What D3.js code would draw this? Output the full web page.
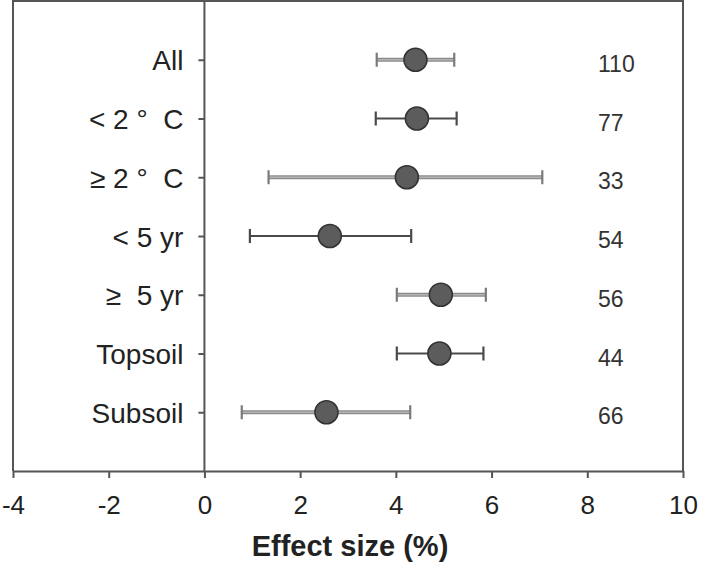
<!DOCTYPE html>
<html>
<head>
<meta charset="utf-8">
<script src="https://cdn.jsdelivr.net/npm/d3@7"></script>
<style>
  html, body { margin: 0; padding: 0; background: #fff; }
  svg { display: block; font-family: "Liberation Sans", Arial, sans-serif; }
</style>
</head>
<body>
<svg id="chart" width="701" height="569"></svg>
<script>
// ---- data ----
const categories = ["All", "< 2 °\u00A0\u00A0C", "≥ 2 °\u00A0\u00A0C", "< 5 yr", "≥\u00A0\u00A05 yr", "Topsoil", "Subsoil"];
const effect = [4.41, 4.44, 4.23, 2.62, 4.94, 4.91, 2.55];
const ciLow  = [3.60, 3.58, 1.34, 0.95, 4.02, 4.02, 0.78];
const ciHigh = [5.22, 5.27, 7.06, 4.32, 5.88, 5.83, 4.30];
const nObs   = [110, 77, 33, 54, 56, 44, 66];
const xTicks = [-4, -2, 0, 2, 4, 6, 8, 10];
const xTitle = "Effect size (%)";

// ---- layout ----
const svg = d3.select("#chart");
const pL = 13, pR = 683, pT = 1, pB = 471;
const axisColor = "#555";

const x = d3.scaleLinear().domain([-4, 10]).range([pL, pR]);
const y = d3.scalePoint().domain(d3.range(categories.length)).range([pT, pB]).padding(1);

// frame (top, left, right)
svg.append("path")
  .attr("d", `M${pL},${pB}V${pT}H${pR}V${pB}`)
  .attr("fill", "none").attr("stroke", axisColor).attr("stroke-width", 2);

// x axis
const xAxis = svg.append("g")
  .attr("transform", `translate(0,${pB})`)
  .call(d3.axisBottom(x).tickValues(xTicks).tickFormat(d => String(d)).tickSize(7).tickSizeOuter(0));
xAxis.select(".domain").attr("stroke", axisColor).attr("stroke-width", 2);
xAxis.selectAll(".tick line").attr("stroke", axisColor).attr("stroke-width", 2);
xAxis.selectAll(".tick text")
  .attr("y", 25).attr("dy", "0.71em")
  .attr("font-size", 26).attr("fill", "#222")
  .attr("font-family", "'Liberation Sans', Arial, sans-serif");

// y axis at x = 0
const yAxis = svg.append("g")
  .attr("transform", `translate(${x(0)},0)`)
  .call(d3.axisLeft(y).tickFormat(i => categories[i]).tickSize(6).tickSizeOuter(0).tickPadding(15));
yAxis.select(".domain").attr("d", `M0,${pT}V${pB}`).attr("stroke", axisColor).attr("stroke-width", 2);
yAxis.selectAll(".tick line").attr("stroke", axisColor).attr("stroke-width", 2);
yAxis.selectAll(".tick text")
  .attr("dy", 10).attr("font-size", 28).attr("fill", "#222")
  .attr("font-family", "'Liberation Sans', Arial, sans-serif");

// error bars
const idx = d3.range(categories.length);
const capH = 7;
const bars = svg.append("g").selectAll("g").data(idx).join("g");
function drawStem(g, i, color, width) {
  g.append("line")
    .attr("x1", x(ciLow[i])).attr("x2", x(ciHigh[i]))
    .attr("y1", y(i)).attr("y2", y(i))
    .attr("stroke", color).attr("stroke-width", width);
}
function drawCaps(g, i, color, width) {
  [ciLow[i], ciHigh[i]].forEach(v => {
    g.append("line")
      .attr("x1", x(v)).attr("x2", x(v))
      .attr("y1", y(i) - capH).attr("y2", y(i) + capH)
      .attr("stroke", color).attr("stroke-width", width);
  });
}
bars.each(function(i) {
  const g = d3.select(this);
  if (i % 2 === 0) {
    drawStem(g, i, "#8a8a8a", 4);
    drawStem(g, i, "#b4b4b4", 1.6);
    drawCaps(g, i, "#7a7a7a", 2.2);
  } else {
    drawStem(g, i, "#4a4a4a", 2.2);
    drawCaps(g, i, "#4a4a4a", 2.2);
  }
});

// points
svg.append("g").selectAll("circle").data(idx).join("circle")
  .attr("cx", i => x(effect[i])).attr("cy", i => y(i)).attr("r", 11.5)
  .attr("fill", "#5c5c5c").attr("stroke", "#333").attr("stroke-width", 1.6);

// n labels
svg.append("g").selectAll("text").data(idx).join("text")
  .attr("x", 598).attr("y", i => y(i) + 12)
  .attr("font-size", 23).attr("fill", "#333")
  .text(i => nObs[i]);

// x title
svg.append("text")
  .attr("x", (pL + pR) / 2 + 2).attr("y", 556)
  .attr("text-anchor", "middle")
  .attr("font-size", 29).attr("font-weight", "bold").attr("fill", "#222")
  .text(xTitle);
</script>
</body>
</html>
